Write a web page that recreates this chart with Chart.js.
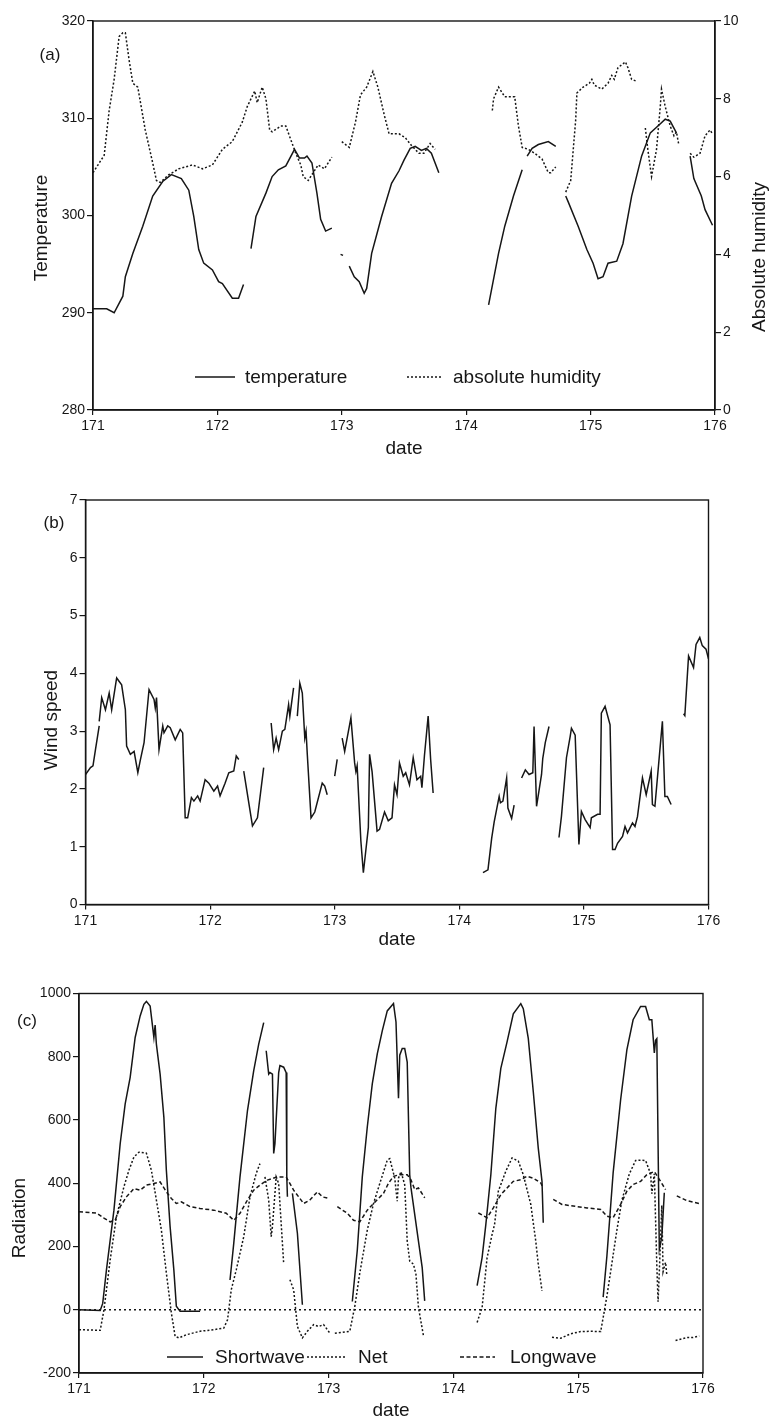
<!DOCTYPE html>
<html>
<head>
<meta charset="utf-8">
<script src="https://cdn.jsdelivr.net/npm/chart.js@4.4.1/dist/chart.umd.min.js"></script>
<style>
html, body { margin: 0; padding: 0; background: #fff; }
body { width: 773px; height: 1425px; position: relative; overflow: hidden; }
.panel { position: absolute; left: 0; }
</style>
</head>
<body>
<canvas id="graficoA" class="panel" style="top:0px" width="773" height="480"></canvas>
<canvas id="graficoB" class="panel" style="top:450px" width="773" height="505"></canvas>
<canvas id="graficoC" class="panel" style="top:955px" width="773" height="470"></canvas>
<script>
// ---- datos (null = hueco en la serie) ----
var fechaTemp = [171.00,171.11,171.17,171.24,171.26,171.32,171.40,171.48,171.56,171.63,171.71,171.77,171.81,171.85,171.89,171.96,172.01,172.04,172.12,172.17,172.21,null,
  172.27,172.31,172.39,172.44,172.49,172.55,172.62,172.66,172.70,172.72,172.76,172.80,172.83,172.87,172.92,null,172.99,173.01,null,
  173.06,173.10,173.14,173.18,173.20,173.24,173.32,173.40,173.46,173.50,173.55,173.59,173.64,173.68,173.72,173.78,null,
  174.18,174.26,174.31,174.38,174.45,null,174.49,174.53,174.58,174.66,174.72,null,
  174.80,174.82,174.90,174.97,175.02,175.06,175.10,175.14,175.21,175.26,175.33,175.41,175.48,175.55,175.60,175.64,175.69,null,
  175.80,175.83,175.89,175.92,175.98];
var temperatura = [290.4,290.4,290.0,291.7,293.7,296.1,298.9,302.0,303.5,304.2,303.8,302.6,299.9,296.5,295.1,294.4,293.2,293.0,291.5,291.5,292.9,null,
  296.6,299.9,302.3,304.0,304.7,305.1,306.8,305.9,305.9,306.1,305.4,302.3,299.6,298.4,298.7,null,296.0,295.9,null,
  294.8,293.7,293.2,292.0,292.5,296.1,299.9,303.3,304.6,305.7,306.9,307.1,306.7,306.9,306.4,304.4,null,
  290.8,296.1,298.9,302.0,304.7,null,306.1,306.9,307.3,307.6,307.1,null,
  302.0,301.4,298.9,296.5,295.1,293.5,293.7,295.1,295.3,297.1,302.0,306.1,308.5,309.3,309.9,309.7,308.5,null,
  306.1,303.8,302.0,300.6,299.0];

var fechaHum = [171.00,171.05,171.09,171.13,171.17,171.21,171.24,171.26,171.29,171.32,171.36,171.42,171.48,171.51,171.54,171.61,171.69,171.80,171.88,171.96,
  172.04,172.12,172.20,172.24,172.30,172.32,172.36,172.39,172.42,172.44,172.51,172.55,172.59,172.63,172.67,172.69,172.73,172.77,172.81,172.86,172.92,null,
  173.00,173.06,173.11,173.15,173.20,173.25,173.29,173.34,173.38,173.46,173.51,173.56,173.62,173.66,173.71,173.75,null,
  174.21,174.22,174.26,174.31,174.35,174.39,174.42,174.45,174.50,174.55,174.61,174.66,174.68,174.72,null,
  174.80,174.84,174.88,174.89,174.94,174.99,175.01,175.03,175.09,175.14,175.17,175.19,175.22,175.28,175.30,175.33,175.37,null,
  175.44,175.46,175.49,175.53,175.56,175.57,175.60,175.64,175.67,175.69,175.71,null,
  175.80,175.83,175.88,175.92,175.96,175.98];
var humedad = [6.1,6.35,6.55,7.7,8.5,9.6,9.7,9.7,9.0,8.4,8.3,7.2,6.35,5.9,5.85,6.05,6.2,6.3,6.2,6.3,
  6.7,6.9,7.4,7.8,8.2,7.9,8.3,8.0,7.2,7.15,7.3,7.3,6.95,6.6,6.3,6.0,5.9,6.1,6.3,6.2,6.5,null,
  6.9,6.75,7.4,8.1,8.3,8.7,8.3,7.6,7.1,7.1,7.0,6.8,6.6,6.6,6.85,6.7,null,
  7.7,8.0,8.3,8.05,8.05,8.05,7.3,6.75,6.7,6.6,6.45,6.1,6.1,6.25,null,
  5.6,5.9,7.45,8.15,8.3,8.4,8.5,8.35,8.25,8.4,8.6,8.5,8.8,8.95,8.8,8.5,8.45,null,
  7.25,6.7,6.0,6.7,7.8,8.25,7.8,7.3,7.05,7.15,6.8,null,
  6.6,6.5,6.6,7.05,7.2,7.1];

var fechaViento = [171.00,171.04,171.06,171.08,171.11,null,171.11,171.13,171.16,171.19,171.21,171.25,171.29,171.32,171.33,171.36,171.39,171.42,171.44,171.47,
  171.51,171.55,171.56,171.57,171.59,171.62,171.63,171.66,171.68,171.72,171.76,171.78,171.80,171.82,171.85,171.87,171.90,171.92,171.96,171.99,
  172.03,172.06,172.08,172.12,172.15,172.19,172.21,172.23,null,172.27,172.34,172.38,172.43,null,
  172.49,172.51,172.53,172.55,172.58,172.60,172.63,172.64,172.67,null,172.70,172.72,172.74,172.76,172.77,172.78,172.81,172.84,172.90,172.92,172.94,null,
  173.00,173.02,null,173.06,173.08,173.13,173.16,173.17,173.18,173.21,173.23,173.27,173.28,173.30,173.34,173.36,173.40,173.43,173.46,173.48,173.50,
  173.52,173.55,173.57,173.60,173.63,173.66,173.69,173.70,173.72,173.75,173.77,173.79,null,
  174.19,174.23,174.26,174.28,174.32,174.33,174.35,174.38,174.39,174.42,174.44,null,
  174.50,174.53,174.56,174.59,174.60,174.62,174.66,174.67,174.69,174.72,null,
  174.80,174.82,174.86,174.89,174.90,174.93,174.96,174.98,175.01,175.05,175.06,175.11,175.13,175.14,175.17,175.21,175.23,175.25,175.27,175.31,
  175.33,175.35,175.39,175.41,175.43,175.47,175.50,175.54,175.55,175.57,175.63,175.65,175.67,175.70,null,
  175.80,175.81,175.84,175.88,175.90,175.93,175.95,175.98,176.00];
var viento = [2.25,2.37,2.4,2.68,3.09,null,3.17,3.58,3.37,3.66,3.37,3.92,3.8,3.37,2.74,2.6,2.65,2.28,2.5,2.8,
  3.72,3.55,3.4,3.58,2.68,3.09,2.97,3.09,3.06,2.85,3.03,2.97,1.5,1.5,1.85,1.79,1.88,1.79,2.16,2.1,
  1.96,2.05,1.88,2.1,2.28,2.31,2.57,2.51,null,2.31,1.36,1.5,2.37,null,
  3.14,2.68,2.88,2.68,3.0,3.03,3.46,3.26,3.75,null,3.26,3.83,3.66,2.88,3.0,2.6,1.5,1.6,2.1,2.05,1.9,null,
  2.22,2.51,null,2.88,2.65,3.23,2.45,2.3,2.4,1.1,0.55,1.33,2.6,2.3,1.27,1.3,1.6,1.45,1.5,2.07,1.9,
  2.45,2.22,2.28,2.07,2.54,2.16,2.22,2.02,2.57,3.26,2.51,1.93,null,
  0.55,0.6,1.15,1.43,1.87,1.76,1.79,2.19,1.67,1.49,1.72,null,
  2.19,2.33,2.25,2.28,3.08,1.7,2.25,2.53,2.8,3.08,null,
  1.16,1.53,2.54,2.91,3.05,2.93,1.04,1.61,1.47,1.33,1.5,1.56,1.56,3.31,3.43,3.11,0.95,0.95,1.06,1.18,
  1.35,1.24,1.41,1.35,1.52,2.19,1.9,2.31,1.73,1.7,3.17,1.87,1.87,1.73,null,
  3.3,3.27,4.3,4.1,4.5,4.62,4.48,4.42,4.25];

var fechaOndaCorta = [171.00,171.17,171.19,171.22,171.28,171.33,171.37,171.41,171.45,171.49,171.52,171.54,171.57,171.60,171.61,171.62,171.65,171.68,171.70,171.73,171.76,171.78,171.81,171.97,null,
  172.21,172.24,172.29,172.35,172.40,172.44,172.48,null,
  172.50,172.52,172.53,172.55,172.56,172.57,172.60,172.61,172.64,172.66,172.665,172.67,null,172.71,172.75,172.79,null,
  173.19,173.23,173.27,173.31,173.35,173.39,173.43,173.47,173.52,173.54,173.56,173.57,173.59,173.61,173.63,173.65,173.66,173.72,173.75,173.77,null,
  174.19,174.23,174.26,174.30,174.34,174.38,174.43,174.48,174.54,174.56,174.60,174.64,174.68,174.71,174.72,null,
  175.20,175.23,175.28,175.34,175.39,175.44,175.50,175.54,175.57,175.59,175.61,175.62,175.63,175.65,175.67,175.69];
var ondaCorta = [0,-2,20,126,315,525,651,735,861,929,966,975,960,861,900,840,745,609,441,263,126,11,-5,-5,null,
  94,210,420,630,756,840,908,null,
  819,745,750,745,494,525,750,772,767,750,420,357,null,368,242,16,null,
  26,189,420,578,714,809,882,945,968,910,669,805,826,826,783,427,386,217,133,28,null,
  76,165,270,427,637,763,847,936,968,952,858,690,511,406,275,null,
  40,170,433,664,822,917,959,959,917,917,812,852,857,192,230,370];

var fechaNeta = [171.00,171.17,171.20,171.25,171.30,171.36,171.40,171.44,171.48,171.54,171.58,171.62,171.66,171.70,171.74,171.77,171.80,171.86,171.97,
  172.08,172.16,172.19,172.22,172.26,172.32,172.37,172.42,172.45,null,172.49,172.52,172.54,172.55,172.58,172.60,172.64,null,
  172.69,172.72,172.75,172.79,172.83,172.88,172.92,172.96,173.01,null,
  173.05,173.17,173.21,173.25,173.31,173.36,173.41,173.47,173.49,173.53,173.55,173.56,173.58,173.61,173.63,173.65,173.68,173.70,173.72,173.76,null,
  174.19,174.23,174.27,174.31,174.33,174.36,174.42,174.47,174.52,174.56,174.62,174.66,174.68,174.71,null,
  174.79,174.86,174.94,175.02,175.10,175.18,175.20,175.23,175.27,175.31,175.35,175.41,175.46,175.50,175.54,175.58,175.59,175.61,175.63,175.64,175.65,175.67,175.68,175.70,175.71,null,
  175.78,175.87,175.92,175.97];
var neta = [-63,-65,0,158,294,389,441,483,498,495,441,347,252,116,-10,-84,-89,-79,-68,
  -63,-58,-32,63,126,231,357,431,462,null,420,347,231,263,420,399,147,null,
  95,63,-53,-89,-68,-47,-53,-47,-74,null,
  -74,-68,11,116,252,336,399,473,478,416,343,416,437,395,217,154,144,112,7,-82,null,
  -40,7,165,238,270,375,438,480,470,427,333,217,144,60,null,
  -87,-90,-76,-69,-68,-69,-25,43,147,252,346,430,472,473,472,430,367,430,140,25,120,330,120,150,110,null,
  -97,-88,-88,-83];

var fechaOndaLarga = [171.00,171.14,171.20,171.25,171.29,171.33,171.38,171.44,171.49,171.54,171.60,171.65,171.70,171.74,171.78,171.82,171.89,171.97,
  172.08,172.18,172.24,172.29,172.35,172.40,172.45,172.51,172.59,172.66,172.72,172.76,172.80,172.85,172.91,172.95,173.00,null,
  173.07,173.15,173.20,173.25,173.31,173.36,173.44,173.48,173.52,173.57,173.63,173.66,173.69,173.72,173.77,null,
  174.20,174.27,174.32,174.38,174.43,174.48,174.54,174.59,174.64,174.70,174.72,null,
  174.80,174.87,174.96,175.07,175.18,175.23,175.28,175.34,175.39,175.44,175.50,175.55,175.61,175.66,175.70,null,
  175.79,175.87,175.98];
var ondaLarga = [310,306,290,278,283,326,357,383,378,394,399,404,373,352,336,341,326,320,
  315,305,283,305,347,378,394,410,420,420,378,357,336,347,373,357,352,null,
  326,305,283,278,315,336,368,400,422,427,427,411,380,385,354,null,
  306,291,322,364,385,406,411,422,416,401,385,null,
  349,333,328,322,317,296,291,333,375,396,406,427,437,406,380,null,
  360,345,335];

var diasEje = [171, 176];
var ticksTemp = [280, 320, 10];
var ticksHum = [0, 10, 2];
var ticksViento = [0, 7, 1];
var ticksRad = [-200, 1000, 200];

// ---- estilo ----
var TINTA = '#161616';
var LETRA = '"Liberation Sans", Arial, Helvetica, sans-serif';
Chart.defaults.font.family = LETRA;
Chart.defaults.color = TINTA;

function puntos(dias, valores) {
  var out = [];
  for (var i = 0; i < dias.length; i++) {
    if (valores[i] === null) out.push({ x: dias[i - 1], y: null });
    else out.push({ x: dias[i], y: valores[i] });
  }
  return out;
}

function serie(datos, guion, eje) {
  return {
    data: datos, borderColor: TINTA, borderWidth: 1.5, borderDash: guion,
    pointRadius: 0, tension: 0, spanGaps: false, fill: false, yAxisID: eje || 'y'
  };
}

function ejeX(alto, padAbajo) {
  return {
    type: 'linear', position: 'bottom', min: diasEje[0], max: diasEje[1],
    ticks: { stepSize: 1, padding: 3, color: TINTA, font: { size: 14 }, callback: function (v) { return String(v); } },
    grid: { drawOnChartArea: false, drawTicks: true, tickLength: 5, color: TINTA, lineWidth: 1.2 },
    border: { color: TINTA, width: 1.4 },
    title: { display: true, text: 'date', color: TINTA, font: { size: 19 }, padding: { top: 0, bottom: padAbajo } },
    afterFit: function (s) { s.height = alto; }
  };
}

function ejeY(lim, ancho, lado) {
  return {
    type: 'linear', position: lado || 'left', min: lim[0], max: lim[1],
    ticks: { stepSize: lim[2], padding: 2, color: TINTA, font: { size: 14 }, callback: function (v) { return String(v); } },
    grid: { drawOnChartArea: false, drawTicks: true, tickLength: 6, color: TINTA, lineWidth: 1.2 },
    border: { color: TINTA, width: 1.4 },
    afterFit: function (s) { s.width = ancho; }
  };
}

// marco, letra del panel, titulos verticales y leyenda
var decorado = {
  id: 'decorado',
  afterDraw: function (chart, args, o) {
    var ctx = chart.ctx, a = chart.chartArea;
    ctx.save();
    ctx.strokeStyle = TINTA;
    ctx.lineWidth = 1.4;
    ctx.strokeRect(a.left, a.top, a.right - a.left, a.bottom - a.top);
    ctx.fillStyle = TINTA;
    ctx.textBaseline = 'middle';
    ctx.textAlign = 'center';
    ctx.font = '17px ' + LETRA;
    ctx.fillText(o.etiqueta, o.etiquetaX, o.etiquetaY);
    ctx.font = '19px ' + LETRA;
    (o.titulos || []).forEach(function (t) {
      ctx.save();
      ctx.translate(t.x, t.y);
      ctx.rotate(-Math.PI / 2);
      ctx.fillText(t.texto, 0, 0);
      ctx.restore();
    });
    ctx.textAlign = 'left';
    (o.leyenda || []).forEach(function (l) {
      ctx.save();
      ctx.lineWidth = 1.5;
      ctx.setLineDash(l.guion);
      ctx.beginPath();
      ctx.moveTo(l.x1, o.leyendaY);
      ctx.lineTo(l.x2, o.leyendaY);
      ctx.stroke();
      ctx.restore();
      ctx.fillText(l.texto, l.tx, o.leyendaY + 1);
    });
    ctx.restore();
  }
};

function opcionesBase(padTop, padRight, escalas, deco) {
  return {
    responsive: false, animation: false, events: [],
    layout: { padding: { top: padTop, right: padRight, left: 0, bottom: 0 } },
    scales: escalas,
    plugins: { legend: { display: false }, tooltip: { enabled: false }, decorado: deco }
  };
}

// (a) temperatura y humedad absoluta
new Chart(document.getElementById('graficoA'), {
  type: 'line',
  data: { datasets: [
    serie(puntos(fechaTemp, temperatura), [], 'y'),
    serie(puntos(fechaHum, humedad), [2, 2], 'y2')
  ] },
  options: opcionesBase(21, 0, {
    x: ejeX(70, 19.6),
    y: ejeY(ticksTemp, 93, 'left'),
    y2: ejeY(ticksHum, 58, 'right')
  }, {
    etiqueta: '(a)', etiquetaX: 50, etiquetaY: 55,
    titulos: [{ texto: 'Temperature', x: 42, y: 228 }, { texto: 'Absolute humidity', x: 760, y: 257 }],
    leyendaY: 377,
    leyenda: [
      { texto: 'temperature', guion: [], x1: 195, x2: 235, tx: 245 },
      { texto: 'absolute humidity', guion: [2, 2], x1: 407, x2: 443, tx: 453 }
    ]
  }),
  plugins: [decorado]
});

// (b) velocidad del viento
new Chart(document.getElementById('graficoB'), {
  type: 'line',
  data: { datasets: [serie(puntos(fechaViento, viento), [], 'y')] },
  options: opcionesBase(50, 64.5, {
    x: ejeX(50.5, 3.6),
    y: ejeY(ticksViento, 85.5, 'left')
  }, {
    etiqueta: '(b)', etiquetaX: 54, etiquetaY: 73,
    titulos: [{ texto: 'Wind speed', x: 52, y: 270 }],
    leyendaY: 0, leyenda: []
  }),
  plugins: [decorado]
});

// (c) radiacion
new Chart(document.getElementById('graficoC'), {
  type: 'line',
  data: { datasets: [
    serie(puntos(fechaOndaCorta, ondaCorta), [], 'y'),
    serie(puntos(fechaNeta, neta), [2, 2], 'y'),
    serie(puntos(fechaOndaLarga, ondaLarga), [4, 2.5], 'y'),
    serie(puntos(diasEje, [0, 0]), [2, 3], 'y')
  ] },
  options: opcionesBase(38.5, 70, {
    x: ejeX(52, 2.6),
    y: ejeY(ticksRad, 79, 'left')
  }, {
    etiqueta: '(c)', etiquetaX: 27, etiquetaY: 66,
    titulos: [{ texto: 'Radiation', x: 20, y: 263 }],
    leyendaY: 402,
    leyenda: [
      { texto: 'Shortwave', guion: [], x1: 167, x2: 203, tx: 215 },
      { texto: 'Net', guion: [2, 2], x1: 307, x2: 347, tx: 358 },
      { texto: 'Longwave', guion: [4, 2.5], x1: 460, x2: 495, tx: 510 }
    ]
  }),
  plugins: [decorado]
});
</script>
</body>
</html>
